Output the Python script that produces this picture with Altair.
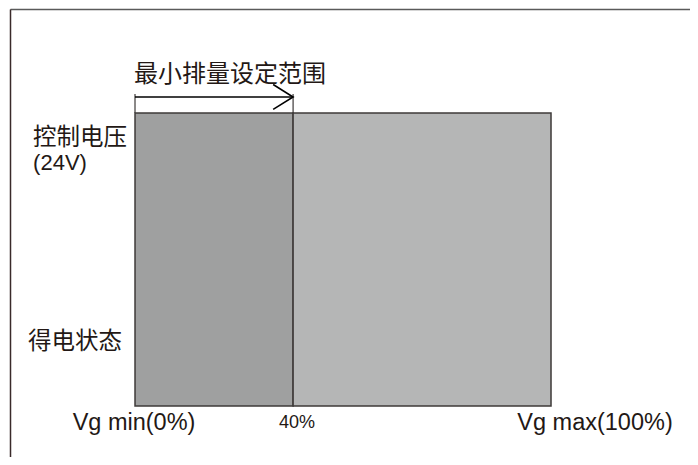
import altair as alt
import pandas as pd

# ---- data ----
seg_start = [0, 38]
seg_end = [38, 100]
seg_fill = ["#9fa0a0", "#b5b6b6"]
state_low = [0, 0]
state_high = [1, 1]

range_label = "最小排量设定范围"
y_labels = ["控制电压", "(24V)", "得电状态"]
x_labels = ["Vg min(0%)", "40%", "Vg max(100%)"]
x_label_vals = [0, 38, 100]

INK = "#231815"
EDGE = "#3e3a39"

xs = alt.Scale(domain=[-30.05, 133.41], nice=False, zero=False)
ys = alt.Scale(domain=[-0.174, 1.3549], nice=False, zero=False)
ax_x = alt.Axis(orient="top", labels=False, ticks=False, grid=False, title=None,
                domain=True, domainColor="#5a5a5a", domainWidth=1.5)
ax_y = alt.Axis(orient="left", labels=False, ticks=False, grid=False, title=None,
                domain=True, domainColor="#3a2a2a", domainWidth=1.5)


def X(f, **kw):
    return alt.X(f, type="quantitative", scale=xs, axis=ax_x, **kw)


def Y(f, **kw):
    return alt.Y(f, type="quantitative", scale=ys, axis=ax_y, **kw)


segs = pd.DataFrame({"s": seg_start, "e": seg_end, "fill": seg_fill,
                     "lo": state_low, "hi": state_high})

rects = alt.Chart(segs).mark_rect(stroke=EDGE, strokeWidth=1.5).encode(
    x=X("s"), x2="e", y=Y("lo"), y2="hi",
    fill=alt.Fill("fill:N", scale=None),
)

arrow_df = pd.DataFrame({"x0": [seg_start[0]], "x1": [seg_end[0]], "y": [1.0546]})
arrow_line = alt.Chart(arrow_df).mark_rule(color="#000000", strokeWidth=1.5).encode(
    x=X("x0"), x2="x1", y=Y("y"))

ticks_df = pd.DataFrame({"x": [seg_start[0], seg_end[0]], "y0": [1.0, 1.0], "y1": [1.065, 1.065]})
arrow_ticks = alt.Chart(ticks_df).mark_rule(color=EDGE, strokeWidth=1.2).encode(
    x=X("x"), y=Y("y0"), y2="y1")

arrow_head = alt.Chart(arrow_df).mark_point(
    shape="M-1.6,-1L0,0L-1.6,1", size=620, filled=False,
    stroke="#000000", strokeWidth=1.6, opacity=1).encode(
    x=X("x1"), y=Y("y"))

cjk_font = "Noto Sans CJK SC"

title_df = pd.DataFrame({"t": [range_label], "x": [seg_start[0]], "y": [1.1297]})
title_txt = alt.Chart(title_df).mark_text(
    align="left", baseline="middle", font=cjk_font, fontSize=24,
    color=INK, dx=-1).encode(x=X("x"), y=Y("y"), text="t:N")

lab1 = alt.Chart(pd.DataFrame({"t": [y_labels[0]], "x": [-24.5], "y": [0.9147]})).mark_text(
    align="left", baseline="middle", font=cjk_font, fontSize=23.5,
    color=INK).encode(x=X("x"), y=Y("y"), text="t:N")
lab2 = alt.Chart(pd.DataFrame({"t": [y_labels[1]], "x": [-24.5], "y": [0.8294]})).mark_text(
    align="left", baseline="middle", font="Liberation Sans", fontSize=22, color=INK).encode(
    x=X("x"), y=Y("y"), text="t:N")
lab3 = alt.Chart(pd.DataFrame({"t": [y_labels[2]], "x": [-25.7], "y": [0.2184]})).mark_text(
    align="left", baseline="middle", font=cjk_font, fontSize=23.5,
    color=INK).encode(x=X("x"), y=Y("y"), text="t:N")

xl = pd.DataFrame({"t": x_labels, "x": x_label_vals, "y": [-0.058] * 3})
xlab_min = alt.Chart(xl.iloc[[0]]).mark_text(
    align="center", baseline="middle", font="Liberation Sans", fontSize=23.5, color=INK,
    dx=-1).encode(x=X("x"), y=Y("y"), text="t:N")
xlab_40 = alt.Chart(xl.iloc[[1]]).mark_text(
    align="center", baseline="middle", font="Liberation Sans", fontSize=18, color=INK,
    dx=4).encode(x=X("x"), y=Y("y"), text="t:N")
xlab_max = alt.Chart(xl.iloc[[2]]).mark_text(
    align="center", baseline="middle", font="Liberation Sans", fontSize=23.5, color=INK,
    dx=44).encode(x=X("x"), y=Y("y"), text="t:N")

chart = alt.layer(
    rects, arrow_ticks, arrow_line, arrow_head, title_txt,
    lab1, lab2, lab3, xlab_min, xlab_40, xlab_max,
).properties(
    width=680, height=448,
    autosize=alt.AutoSizeParams(type="none"),
    padding={"left": 2, "top": 1, "right": 0, "bottom": 0},
).configure_view(stroke=None).configure(background="#ffffff")

chart.save("out.html", embed_options={"renderer": "svg", "actions": False})
